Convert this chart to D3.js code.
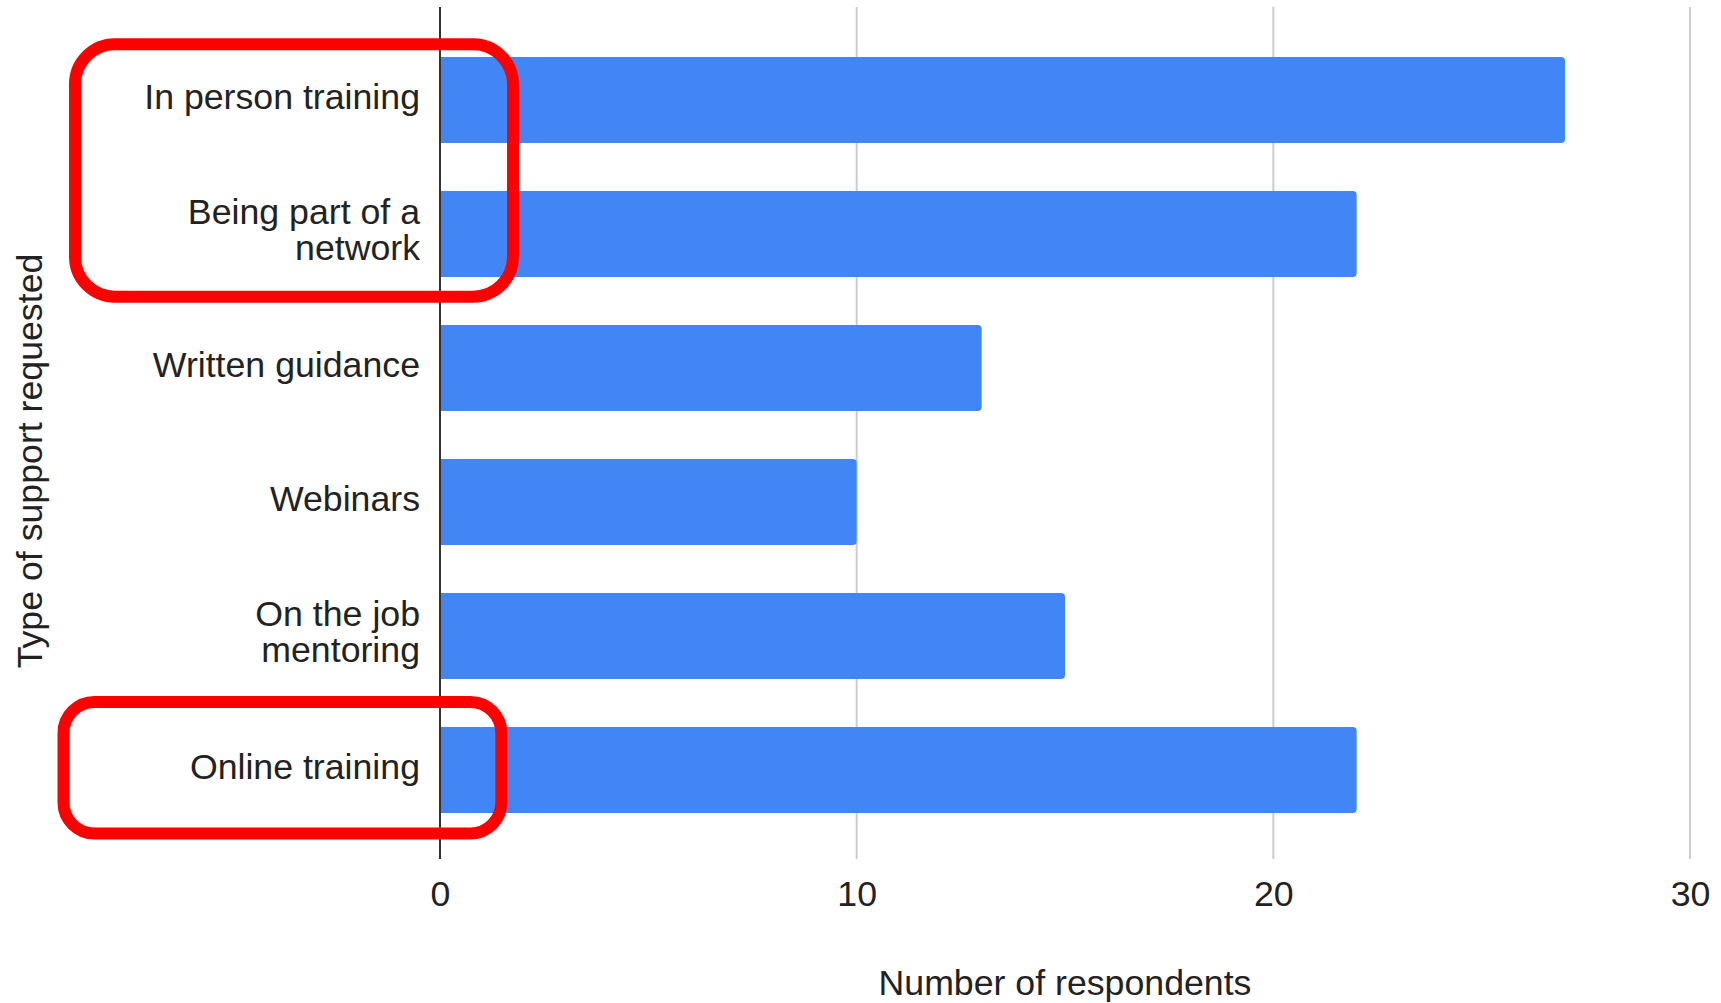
<!DOCTYPE html>
<html>
<head>
<meta charset="utf-8">
<script src="https://cdn.jsdelivr.net/npm/d3@7"></script>
<style>
  html, body { margin: 0; padding: 0; background: #fff; }
  svg { display: block; font-family: "Liberation Sans", Arial, sans-serif; }
</style>
</head>
<body>
<svg id="chart" width="1721" height="1003"></svg>
<script>
// ---- data ----
const categories = [
  "In person training",
  "Being part of a network",
  "Written guidance",
  "Webinars",
  "On the job mentoring",
  "Online training"
];
const categoryLabels = [
  "In person training",
  "Being part of a\nnetwork",
  "Written guidance",
  "Webinars",
  "On the job\nmentoring",
  "Online training"
];
const values = [27, 22, 13, 10, 15, 22];
const xTicks = [0, 10, 20, 30];
const xTitle = "Number of respondents";
const yTitle = "Type of support requested";
const highlightGroups = [
  ["In person training", "Being part of a network"],
  ["Online training"]
];

// ---- layout ----
const FS = 35.7;
const svg = d3.select("#chart");
const plotLeft = 440, plotRight = 1690, plotTop = 7, plotBottom = 859;
const x = d3.scaleLinear().domain([0, 30]).range([plotLeft, plotRight]);
const y = d3.scaleBand().domain(categories).range([33, 837])
  .paddingInner(0.358).paddingOuter(0.179);

// gridlines
svg.append("g").selectAll("line").data(xTicks.filter(t => t !== 0)).join("line")
  .attr("x1", d => x(d)).attr("x2", d => x(d))
  .attr("y1", plotTop).attr("y2", plotBottom)
  .attr("stroke", "#cccccc").attr("stroke-width", 2);

// bars (rounded right corners)
const r = 4;
svg.append("g").selectAll("path").data(categories).join("path")
  .attr("d", (c, i) => {
    const x0 = x(0), x1 = x(values[i]), y0 = y(c), h = y.bandwidth();
    return `M${x0},${y0} H${x1 - r} Q${x1},${y0} ${x1},${y0 + r} V${y0 + h - r} Q${x1},${y0 + h} ${x1 - r},${y0 + h} H${x0} Z`;
  })
  .attr("fill", "#4285f4");

// baseline
svg.append("line")
  .attr("x1", x(0)).attr("x2", x(0))
  .attr("y1", plotTop).attr("y2", plotBottom)
  .attr("stroke", "#333333").attr("stroke-width", 2);

// x axis tick labels
const xAxis = d3.axisBottom(x).tickValues(xTicks).tickSize(0).tickPadding(0);
const gx = svg.append("g").attr("transform", `translate(0,${plotBottom})`).call(xAxis);
gx.select(".domain").remove();
gx.selectAll("text")
  .attr("dy", null).attr("y", 46.5)
  .attr("font-size", FS).attr("font-family", "'Liberation Sans', Arial, sans-serif")
  .attr("fill", "#222222");

// y category labels
const labelG = svg.append("g");
categories.forEach((c, i) => {
  const lines = categoryLabels[i].split("\n");
  const cy = y(c) + y.bandwidth() / 2;
  const t = labelG.append("text")
    .attr("text-anchor", "end")
    .attr("font-size", FS)
    .attr("fill", "#222222");
  const startY = lines.length === 1 ? cy + 8.5 : cy - 10;
  lines.forEach((ln, k) => {
    t.append("tspan").attr("x", 420).attr("y", startY + k * 36).text(ln);
  });
});

// axis titles
svg.append("text")
  .attr("x", (plotLeft + plotRight) / 2).attr("y", 995)
  .attr("text-anchor", "middle").attr("font-size", FS).attr("fill", "#222222")
  .text(xTitle);
svg.append("text")
  .attr("transform", `translate(42,${461}) rotate(-90)`)
  .attr("text-anchor", "middle").attr("font-size", FS).attr("fill", "#222222")
  .text(yTitle);

// red highlight annotations
const annG = svg.append("g");
const annSpecs = [
  { left: 75, right: x(0) + 73, padTop: 12.8, padBottom: 19.8, rx: 40 },
  { left: 63.5, right: x(0) + 61.3, padTop: 25, padBottom: 20.5, rx: 31 }
];
highlightGroups.forEach((grp, gi) => {
  const s = annSpecs[gi];
  const top = y(grp[0]) - s.padTop;
  const bottom = y(grp[grp.length - 1]) + y.bandwidth() + s.padBottom;
  annG.append("rect")
    .attr("x", s.left).attr("y", top)
    .attr("width", s.right - s.left).attr("height", bottom - top)
    .attr("rx", s.rx).attr("ry", s.rx)
    .attr("fill", "none").attr("stroke", "#ff0000").attr("stroke-width", 12);
});
</script>
</body>
</html>
